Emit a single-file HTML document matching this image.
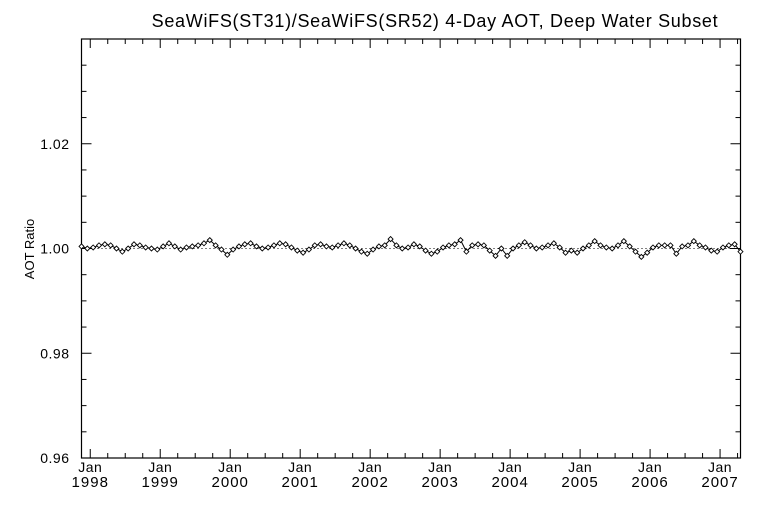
<!DOCTYPE html>
<html><head><meta charset="utf-8"><style>
body{margin:0;background:#fff;}
svg{display:block;font-family:"Liberation Sans",sans-serif;}
</style></head><body>
<svg id="c" width="768" height="512"></svg>
<script>
const yTickValues=[0.96,0.98,1.00,1.02];
const yTickLabels=["0.96","0.98","1.00","1.02"];
const xTickYears=[1998,1999,2000,2001,2002,2003,2004,2005,2006,2007];
const seriesStart=1997.875;
const ratioValues=[1.0004,1.0000,1.0002,1.0006,1.0008,1.0006,1.0000,0.9994,1.0000,1.0008,1.0006,1.0002,1.0000,0.9998,1.0004,1.0010,1.0004,0.9998,1.0002,1.0004,1.0006,1.0010,1.0016,1.0006,0.9998,0.9988,0.9998,1.0004,1.0008,1.0010,1.0004,1.0000,1.0002,1.0006,1.0010,1.0008,1.0002,0.9996,0.9992,0.9998,1.0006,1.0008,1.0004,1.0002,1.0006,1.0010,1.0006,1.0000,0.9994,0.9990,0.9998,1.0004,1.0006,1.0018,1.0006,1.0000,1.0002,1.0008,1.0004,0.9996,0.9990,0.9994,1.0002,1.0006,1.0008,1.0016,0.9994,1.0006,1.0008,1.0006,0.9996,0.9986,1.0000,0.9986,1.0000,1.0006,1.0012,1.0006,1.0000,1.0002,1.0006,1.0010,1.0002,0.9992,0.9996,0.9992,1.0000,1.0006,1.0014,1.0006,1.0002,1.0000,1.0006,1.0014,1.0004,0.9994,0.9984,0.9992,1.0002,1.0006,1.0006,1.0006,0.9990,1.0004,1.0006,1.0014,1.0006,1.0002,0.9996,0.9994,1.0002,1.0006,1.0008,0.9994];
const L=81.5,R=740.5,T=39,B=458;
const yMin=0.96,yMax=1.04;
const tMin=1997.875,tMax=2007.292;
function sy(v){return B-(v-yMin)/(yMax-yMin)*(B-T);}
function sx(t){return L+(t-tMin)/(tMax-tMin)*(R-L);}
const svg=document.getElementById('c');
const NS='http://www.w3.org/2000/svg';
function mk(tag,attrs,parent){const e=document.createElementNS(NS,tag);for(const k in attrs)e.setAttribute(k,attrs[k]);(parent||svg).appendChild(e);return e;}
const frame=mk('rect',{x:L,y:T,width:R-L,height:B-T,fill:'none',stroke:'#000','stroke-width':1.2});


for(let v=0.96;v<=1.0401;v+=0.005){
  const y=sy(v);const major=Math.abs((v*100)%2)<0.01||Math.abs((v*100)%2-2)<0.01;
  const len=major?10:5;
  const t1=mk('line',{x1:L,x2:L+len,y1:y,y2:y,stroke:'#000'});
  
  
  const t2=mk('line',{x1:R,x2:R-len,y1:y,y2:y,stroke:'#000'});
  
  
}
yTickValues.forEach((v,i)=>{
  const tx=mk('text',{x:L-12,y:sy(v)+5,'text-anchor':'end','font-size':14,'letter-spacing':0.5});
  tx.textContent=yTickLabels[i];
  
  
});
for(let t=1998;t<=2007.3;t+=0.25){
  const x=sx(t);const major=Math.abs(t-Math.round(t))<0.01;
  const len=major?9:5;
  const a=mk('line',{x1:x,x2:x,y1:B,y2:B-len,stroke:'#000'});
  
  
  const b=mk('line',{x1:x,x2:x,y1:T,y2:T+len,stroke:'#000'});
  
  
}
xTickYears.forEach(yr=>{
  const x=sx(yr);
  const a=mk('text',{x:x,y:B+14,'text-anchor':'middle','font-size':14,'letter-spacing':0.5});
  a.textContent='Jan';
  
  
  const b=mk('text',{x:x,y:B+29,'text-anchor':'middle','font-size':15,'letter-spacing':1});
  b.textContent=String(yr);
  
  
});
const ref=mk('line',{x1:L,x2:R,y1:sy(1),y2:sy(1),stroke:'#000','stroke-dasharray':'1,3'});


const pts=ratioValues.map((v,i)=>[sx(seriesStart+i/12),sy(v)]);
const pl=mk('polyline',{points:pts.map(p=>p.join(',')).join(' '),fill:'none',stroke:'#000','stroke-width':1});


pts.forEach(p=>{
  const d=mk('path',{d:`M${p[0]-2.5},${p[1]} L${p[0]},${p[1]-2.5} L${p[0]+2.5},${p[1]} L${p[0]},${p[1]+2.5} Z`,fill:'#fff',stroke:'#000','stroke-width':0.9});
  
  
});
const title=mk('text',{x:435,y:27,'text-anchor':'middle','font-size':18,'letter-spacing':0.7});
title.textContent='SeaWiFS(ST31)/SeaWiFS(SR52) 4-Day AOT, Deep Water Subset';


const yt=mk('text',{x:0,y:0,'text-anchor':'middle','font-size':13,transform:'translate(34,249) rotate(-90)'});
yt.textContent='AOT Ratio';


</script>
</body></html>
